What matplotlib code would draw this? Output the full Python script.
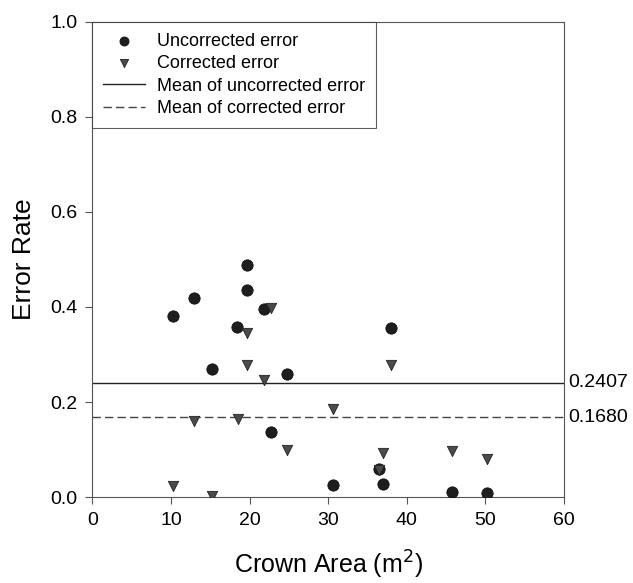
import matplotlib
matplotlib.use("Agg")
from matplotlib import pyplot as plt
import numpy as np

# uncorrected error (circles)
unc_area = [10.2, 12.95, 19.7, 19.7, 21.8, 18.4, 15.2, 24.7, 22.7, 38.0, 36.5, 30.6, 37.0, 45.7, 50.2]
unc_err = [0.382, 0.419, 0.488, 0.435, 0.396, 0.358, 0.269, 0.258, 0.136, 0.355, 0.060, 0.025, 0.027, 0.010, 0.008]

# corrected error (triangles)
cor_area = [22.7, 19.7, 19.7, 21.8, 12.95, 18.5, 24.7, 10.2, 15.2, 38.0, 30.6, 37.0, 36.5, 45.7, 50.2]
cor_err = [0.397, 0.345, 0.278, 0.246, 0.159, 0.164, 0.100, 0.023, 0.002, 0.278, 0.185, 0.092, 0.057, 0.097, 0.081]

mean_unc = 0.2407
mean_cor = 0.1680

plt.rcParams['font.family'] = ['Liberation Sans', 'DejaVu Sans']

fig = plt.figure(figsize=(6.33, 5.83), dpi=100)
ax = fig.add_axes([0.146, 0.1475, 0.745, 0.8148])

ax.scatter(unc_area, unc_err, s=66, marker='o', color='#1e1e1e', edgecolors='#111111',
           linewidths=0.6, zorder=3, label='Uncorrected error')
ax.scatter(cor_area, cor_err, s=55, marker='v', color='#4a4a4a', edgecolors='#222222',
           linewidths=0.6, zorder=3, label='Corrected error')
ax.axhline(mean_unc, color='#222222', lw=1.0, label='Mean of uncorrected error')
ax.axhline(mean_cor, color='#444444', lw=1.0, ls=(0, (6, 3)), label='Mean of corrected error')

ax.text(1.008, mean_unc, f"{mean_unc:.4f}", transform=ax.get_yaxis_transform(),
        va='center', ha='left', fontsize=14)
ax.text(1.008, mean_cor, f"{mean_cor:.4f}", transform=ax.get_yaxis_transform(),
        va='center', ha='left', fontsize=14)

ax.set_xlim(0, 60)
ax.set_ylim(0, 1.0)
ax.set_xticks(np.arange(0, 61, 10))
ax.set_yticks(np.arange(0, 1.01, 0.2))
ax.set_yticklabels([f"{v:.1f}" for v in np.arange(0, 1.01, 0.2)])
ax.tick_params(direction='out', length=5, width=0.8, labelsize=14, color='#555555',
               top=False, right=False, pad=6)
for s in ax.spines.values():
    s.set_color('#555555')
    s.set_linewidth(0.8)

ax.set_xlabel("Crown Area (m$^2$)", fontsize=18, labelpad=14)
ax.set_ylabel("Error Rate", fontsize=19, labelpad=10)

leg = ax.legend(loc='upper left', bbox_to_anchor=(0, 1), fontsize=13, frameon=True, fancybox=False,
                borderaxespad=0, handlelength=2.3, labelspacing=0.3, handletextpad=0.7,
                markerscale=0.8, borderpad=0.6)
leg.get_frame().set_edgecolor('#333333')
leg.get_frame().set_linewidth(0.8)

fig.savefig("out.png", dpi=100)
